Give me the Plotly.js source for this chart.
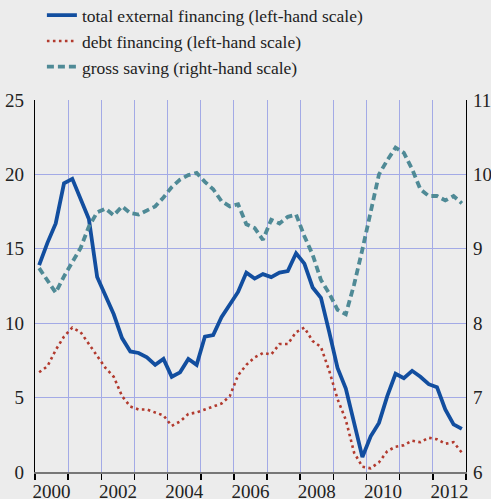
<!DOCTYPE html>
<html>
<head>
<meta charset="utf-8">
<script src="https://cdn.plot.ly/plotly-3.0.1.min.js"></script>
<style>html,body{margin:0;padding:0;background:#ececec;}#chart{width:491px;height:499px;}</style>
</head>
<body>
<div id="chart"></div>
<script>
// Quarterly observations, 2000 Q1 .. 2012 Q4 (plotted at quarter midpoints)
var startYear = 2000;
var quartersPerYear = 4;

var totalExternalFinancing = [
  13.9, 15.4, 16.7, 19.4, 19.7, 18.4, 17.0, 13.1, 11.9, 10.6, 9.0, 8.1, 8.0,
  7.7, 7.2, 7.6, 6.4, 6.7, 7.6, 7.2, 9.1, 9.2, 10.4, 11.2, 12.1, 13.4,
  13.0, 13.3, 13.1, 13.4, 13.5, 14.7, 14.0, 12.4, 11.7, 9.4, 7.0, 5.6, 3.2,
  1.0, 2.4, 3.3, 5.1, 6.6, 6.3, 6.8, 6.4, 5.9, 5.7, 4.2, 3.2, 2.9
];
var debtFinancing = [
  6.7, 7.1, 8.2, 9.1, 9.7, 9.4, 8.6, 7.8, 7.0, 6.4, 5.1, 4.4, 4.2,
  4.2, 4.0, 3.8, 3.1, 3.4, 3.9, 4.0, 4.2, 4.4, 4.6, 5.1, 6.5, 7.2,
  7.7, 8.0, 7.9, 8.6, 8.6, 9.4, 9.7, 8.8, 8.4, 6.8, 4.9, 3.5, 1.3,
  0.35, 0.25, 0.65, 1.4, 1.7, 1.8, 2.1, 2.0, 2.3, 2.2, 1.9, 2.0, 1.3
];
var grossSaving = [
  8.74, 8.58, 8.41, 8.63, 8.83, 9.01, 9.30, 9.49, 9.54, 9.45, 9.57, 9.48, 9.46,
  9.52, 9.57, 9.69, 9.83, 9.93, 9.99, 10.02, 9.90, 9.80, 9.64, 9.57, 9.60, 9.33,
  9.28, 9.12, 9.39, 9.34, 9.43, 9.46, 9.17, 8.92, 8.58, 8.40, 8.18, 8.12, 8.52,
  8.99, 9.48, 10.0, 10.19, 10.36, 10.29, 10.07, 9.80, 9.71, 9.71, 9.65, 9.71, 9.61
];

var seriesNames = [
  'total external financing (left-hand scale)',
  'debt financing (left-hand scale)',
  'gross saving (right-hand scale)'
];

var tickYears = [2000, 2002, 2004, 2006, 2008, 2010, 2012];
var tickLabels = ['2000', '2002', '2004', '2006', '2008', '2010', '2012'];
var leftTicks = [0, 5, 10, 15, 20, 25];
var rightTicks = [6, 7, 8, 9, 10, 11];

var dates = totalExternalFinancing.map(function (_, i) {
  return startYear + (i + 0.5) / quartersPerYear;
});
var labelPos = tickYears.map(function (y) { return y + 0.5; });

var font = 'Liberation Serif';

var traces = [
  {x: dates, y: totalExternalFinancing, name: seriesNames[0], type: 'scatter', mode: 'lines',
   line: {color: '#124e9f', width: 3.8}, yaxis: 'y'},
  {x: dates, y: debtFinancing, name: seriesNames[1], type: 'scatter', mode: 'lines',
   line: {color: '#b23a2e', width: 2.6, dash: '2.6px,3.4px'}, yaxis: 'y'},
  {x: dates, y: grossSaving, name: seriesNames[2], type: 'scatter', mode: 'lines',
   line: {color: '#4f8a96', width: 3.8, dash: '7px,4px'}, yaxis: 'y2'}
];

var gridColor = '#a3aae6';

var layout = {
  width: 491, height: 499,
  paper_bgcolor: '#ececec', plot_bgcolor: '#ececec',
  margin: {l: 35, r: 25, t: 100, b: 27, autoexpand: false},
  font: {family: font, size: 18, color: '#222'},
  showlegend: true,
  legend: {
    x: 0.016, y: 1.276, xref: 'paper', yref: 'paper',
    xanchor: 'left', yanchor: 'top',
    bgcolor: 'rgba(0,0,0,0)', font: {family: font, size: 17.5, color: '#222'},
    itemwidth: 30, tracegroupgap: 0, traceorder: 'normal'
  },
  xaxis: {
    range: [2000, 2013], tickmode: 'array', tickvals: labelPos, ticktext: tickLabels,
    ticks: '', showgrid: false, zeroline: false,
    showline: true, linecolor: '#777', linewidth: 1.5,
    ticklabelstandoff: 2,
    tickfont: {family: font, size: 19, color: '#222'},
    minor: {tickmode: 'linear', tick0: 2000, dtick: 1, showgrid: true, gridcolor: gridColor,
            gridwidth: 1, ticks: 'outside', ticklen: 6, tickcolor: '#000', tickwidth: 1.5}
  },
  yaxis: {
    range: [0, 25], tickmode: 'array', tickvals: leftTicks,
    showgrid: true, gridcolor: gridColor, gridwidth: 1, zeroline: false,
    showline: true, linecolor: '#000', linewidth: 1.2, ticks: '',
    ticklabelstandoff: 6,
    tickfont: {family: font, size: 19, color: '#222'}
  },
  yaxis2: {
    range: [6, 11], tickmode: 'array', tickvals: rightTicks, overlaying: 'y', side: 'right',
    showgrid: false, zeroline: false,
    showline: true, linecolor: '#000', linewidth: 1.2, ticks: '',
    ticklabelstandoff: 2,
    tickfont: {family: font, size: 19, color: '#222'}
  }
};

Plotly.newPlot('chart', traces, layout, {displayModeBar: false, staticPlot: true});
</script>
</body>
</html>
